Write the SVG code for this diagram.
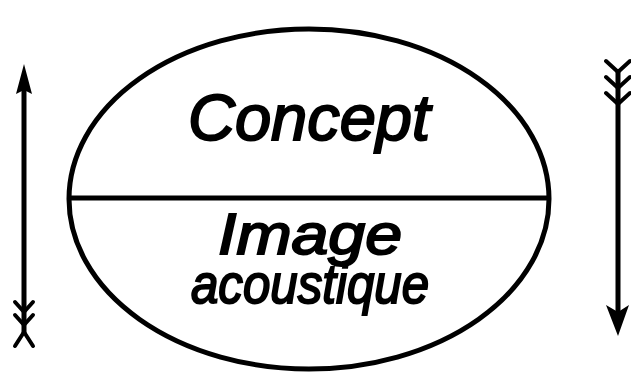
<svg xmlns="http://www.w3.org/2000/svg" width="631" height="387" viewBox="0 0 631 387">
<style>
.t{font-family:"Liberation Sans",Arial,sans-serif;font-style:italic;fill:#000;stroke:#000;stroke-width:2}
.ln{stroke:#000;fill:none;stroke-width:5}
.fl{stroke:#000;fill:none;stroke-width:4;stroke-linecap:round}
</style>
<rect width="631" height="387" fill="#fff"/>
<g id="sign">
<ellipse class="ln" cx="309" cy="199" rx="240" ry="170"/>
<line class="ln" x1="70" y1="198" x2="548" y2="198"/>
<text id="concept" class="t" x="309" y="140" font-size="64" text-anchor="middle" textLength="242" lengthAdjust="spacingAndGlyphs">Concept</text>
<text id="image" class="t" x="310" y="254" font-size="58" text-anchor="middle" textLength="184" lengthAdjust="spacingAndGlyphs">Image</text>
<text id="acoustique" class="t" x="310" y="303" font-size="56" text-anchor="middle" textLength="238" lengthAdjust="spacingAndGlyphs">acoustique</text>
</g>
<g id="connectors">
<g id="arrow-up">
<line class="ln" x1="24" y1="85" x2="24" y2="335" stroke-width="6"/>
<path d="M24 64 L32 94 L24 90 L16 94 Z" fill="#000"/>
<path d="M24 312 L15 302 M24 312 L33 302 M24 325 L15 315 M24 325 L33 315 M24 332 L15 346 M24 332 L33 346" class="fl"/>
</g>
<g id="arrow-down">
<line class="ln" x1="618" y1="70" x2="618" y2="318" stroke-width="6"/>
<path d="M618 336 L606 305 L618 312 L629 305 Z" fill="#000"/>
<path d="M618 72 L606 61 M618 72 L630 61 M618 88 L606 77 M618 88 L630 77 M618 104 L606 93 M618 104 L630 93" class="fl"/>
</g>
</g>
</svg>
